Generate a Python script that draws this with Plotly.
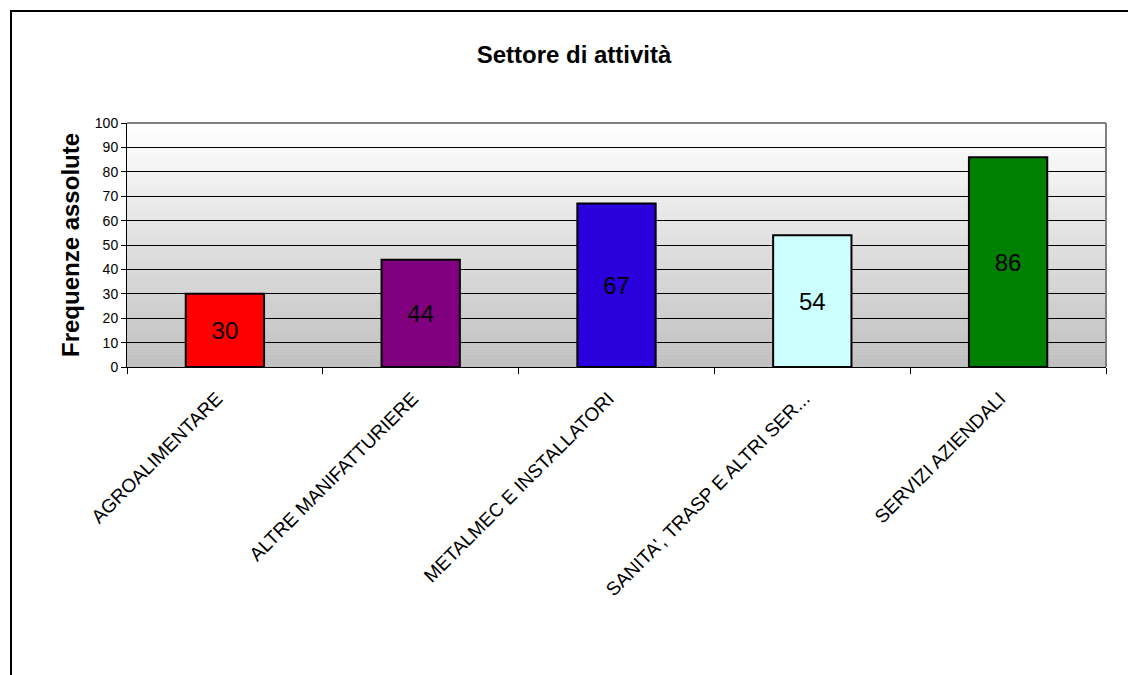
import plotly.graph_objects as go

# Data
categories = [
    "AGROALIMENTARE",
    "ALTRE MANIFATTURIERE",
    "METALMEC E INSTALLATORI",
    "SANITA', TRASP E ALTRI SER...",
    "SERVIZI AZIENDALI",
]
values = [30, 44, 67, 54, 86]
bar_colors = ["#FF0000", "#800080", "#2A00DC", "#CCFFFF", "#008000"]
y_ticks = list(range(0, 101, 10))

W, H = 1128, 675
M_L, M_R, M_T, M_B = 127, 22, 123, 308
FONT = "Liberation Sans, Arial, sans-serif"

fig = go.Figure(
    go.Bar(
        x=categories,
        y=values,
        marker=dict(color=bar_colors, line=dict(color="black", width=2)),
        width=0.4,
        text=values,
        textposition="inside",
        insidetextanchor="middle",
        constraintext="none",
        textfont=dict(family=FONT, size=24, color="black"),
        hoverinfo="x+y",
    )
)

# Vertical grey gradient behind the plot area
shapes = []
n_strips = 80
for i in range(n_strips):
    t = (i + 0.5) / n_strips  # 0 at bottom, 1 at top
    g = int(round(192 + (255 - 192) * t))
    col = f"rgb({g},{g},{g})"
    shapes.append(dict(
        type="rect", xref="x domain", yref="y domain",
        x0=0, x1=1, y0=i / n_strips, y1=(i + 1) / n_strips + 0.002,
        fillcolor=col, line=dict(width=0), layer="below",
    ))

# Grey border on top and right of the plot area
shapes.append(dict(type="line", xref="x domain", yref="y domain",
                   x0=0, x1=1, y0=1, y1=1,
                   line=dict(color="#808080", width=2), layer="above"))
shapes.append(dict(type="line", xref="x domain", yref="y domain",
                   x0=1, x1=1, y0=0, y1=1,
                   line=dict(color="#808080", width=2), layer="above"))

# Outer chart frame (top and left edges)
pw = W - M_L - M_R
ph = H - M_T - M_B
def px_x(px):
    return (px - M_L) / pw
def px_y(py):
    return (H - M_B - py) / ph

shapes.append(dict(type="line", xref="paper", yref="paper",
                   x0=px_x(10), x1=px_x(W + 5), y0=px_y(11), y1=px_y(11),
                   line=dict(color="black", width=2)))
shapes.append(dict(type="line", xref="paper", yref="paper",
                   x0=px_x(11), x1=px_x(11), y0=px_y(10), y1=px_y(H + 5),
                   line=dict(color="black", width=2)))

fig.update_layout(
    width=W,
    height=H,
    margin=dict(l=M_L, r=M_R, t=M_T, b=M_B),
    paper_bgcolor="white",
    plot_bgcolor="rgba(0,0,0,0)",
    font=dict(family=FONT, color="black"),
    showlegend=False,
    shapes=shapes,
    title=dict(
        text="<b>Settore di attività</b>",
        x=574 / W,
        xanchor="center",
        y=1 - 55 / H,
        yanchor="middle",
        font=dict(family=FONT, size=24, color="black"),
    ),
    bargap=0.6,
)

fig.update_xaxes(
    type="category",
    tickangle=-45,
    tickfont=dict(family=FONT, size=19, color="black"),
    ticks="outside",
    tickson="boundaries",
    ticklen=6,
    tickcolor="black",
    ticklabelstandoff=12,
    ticklabelshift=-8,
    showline=True,
    linecolor="black",
    linewidth=1,
    showgrid=False,
    range=[-0.5, 4.5],
)

fig.update_yaxes(
    range=[0, 100],
    tickvals=y_ticks,
    ticktext=[str(v) for v in y_ticks],
    tickfont=dict(family=FONT, size=14, color="black"),
    ticks="outside",
    ticklen=5,
    tickcolor="black",
    showline=True,
    linecolor="black",
    linewidth=1,
    showgrid=True,
    gridcolor="black",
    gridwidth=1,
    zeroline=False,
    title=dict(
        text="<b>Frequenze assolute</b>",
        font=dict(family=FONT, size=24, color="black"),
        standoff=8,
    ),
)

fig.write_html("out.html")
